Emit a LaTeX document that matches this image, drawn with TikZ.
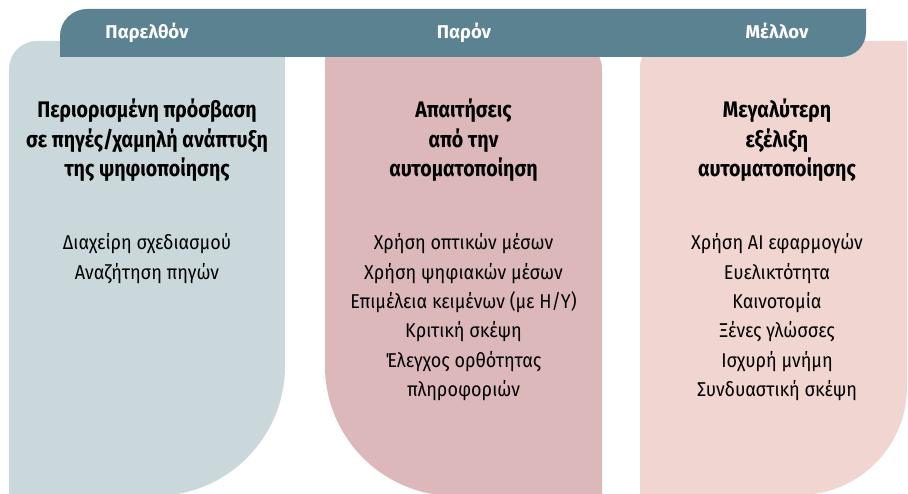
\documentclass[tikz,border=0pt]{standalone}
\usepackage{fontspec}
\setmainfont{Fira Sans}[FakeStretch=0.9]
\newfontfamily\hdrfont{Fira Sans}[FakeStretch=1.0]
\newfontfamily\ttlfont{Fira Sans}[FakeStretch=0.87]
\newfontfamily\itmfont{Fira Sans}[FakeStretch=0.9]
\definecolor{barcol}{HTML}{5A8291}
\definecolor{pastcol}{HTML}{CAD8DC}
\definecolor{nowcol}{HTML}{DCB8BA}
\definecolor{futcol}{HTML}{F0D5D0}
\tikzset{
  hdr/.style={text=white, font=\hdrfont\bfseries\fontsize{18.5}{22}\selectfont, anchor=base, inner sep=0pt},
  ttl/.style={text=black, font=\ttlfont\bfseries\fontsize{22.5}{26}\selectfont, anchor=base, inner sep=0pt},
  itm/.style={text=black, font=\itmfont\fontsize{20}{24}\selectfont, anchor=base, inner sep=0pt}
}
\begin{document}
\begin{tikzpicture}[x=1pt,y=1pt]
\useasboundingbox (0,0) rectangle (908,494);
\clip (0,0) rectangle (908,494);
% panels
\fill[pastcol] (9,-2) -- (9,425) arc[start angle=180,end angle=90,radius=28] -- (285,453) -- (285,128) arc[start angle=0,end angle=-90,radius=130] -- cycle;
\fill[nowcol] (325,128) -- (325,453) -- (574,453) arc[start angle=90,end angle=0,radius=28] -- (602,-2) -- (455,-2) arc[start angle=270,end angle=180,radius=130] -- cycle;
\fill[futcol] (640,-2) -- (640,427) arc[start angle=180,end angle=90,radius=26] -- (907,453) -- (907,107) arc[start angle=0,end angle=-90,radius=108] -- (640,-1) -- cycle;
% header bar
\fill[barcol] (60,437) -- (60,458) arc[start angle=180,end angle=90,radius=27] -- (866,485) -- (866,462) arc[start angle=0,end angle=-90,radius=25] -- cycle;
\node[hdr] (h1) at (147,455) {Παρελθόν};
\node[hdr] (h2) at (464,455) {Παρόν};
\node[hdr] (h3) at (777,455) {Μέλλον};
% titles
\foreach \t [count=\i] in {Περιορισμένη πρόσβαση, σε πηγές/χαμηλή ανάπτυξη, της ψηφιοποίησης}
  \node[ttl] (pt\i) at (147,{494-118-(\i-1)*29.5}) {\t};
\foreach \t [count=\i] in {Απαιτήσεις, από την, αυτοματοποίηση}
  \node[ttl] (nt\i) at (463.5,{494-118-(\i-1)*29.5}) {\t};
\foreach \t [count=\i] in {Μεγαλύτερη, εξέλιξη, αυτοματοποίησης}
  \node[ttl] (ft\i) at (777,{494-118-(\i-1)*29.5}) {\t};
% items
\foreach \t [count=\i] in {Διαχείρη σχεδιασμού, Αναζήτηση πηγών}
  \node[itm] (pi\i) at (147,{494-250-(\i-1)*29.3}) {\t};
\foreach \t [count=\i] in {Χρήση οπτικών μέσων, Χρήση ψηφιακών μέσων, Επιμέλεια κειμένων (με Η/Υ), Κριτική σκέψη, Έλεγχος ορθότητας, πληροφοριών}
  \node[itm] (ni\i) at (463.5,{494-250-(\i-1)*29.3}) {\t};
\foreach \t [count=\i] in {Χρήση AI εφαρμογών, Ευελικτότητα, Καινοτομία, Ξένες γλώσσες, Ισχυρή μνήμη, Συνδυαστική σκέψη}
  \node[itm] (fi\i) at (777,{494-250-(\i-1)*29.3}) {\t};
\end{tikzpicture}
\end{document}
